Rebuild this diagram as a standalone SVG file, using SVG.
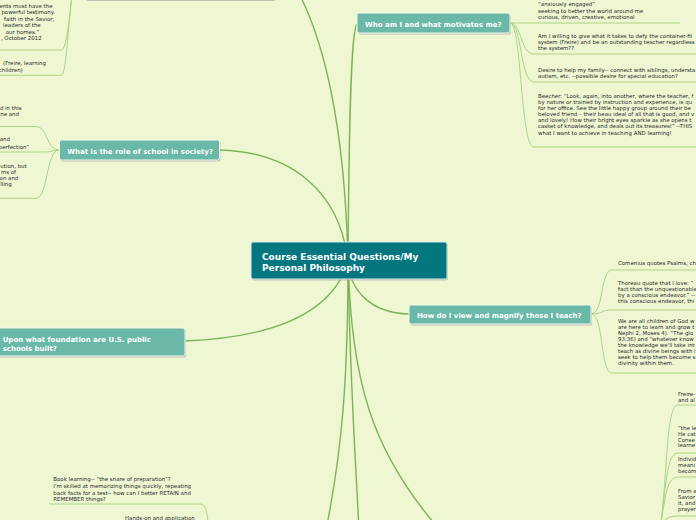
<svg xmlns="http://www.w3.org/2000/svg" width="696" height="520" viewBox="0 0 696 520">
<style>
.main{fill:none;stroke:#7db456;stroke-width:1.4}
.sub{fill:none;stroke:#acd483;stroke-width:1}
.node{fill:#6ab8a7;stroke:#f4f8ee;stroke-width:1}
.cnode{fill:#03767f;stroke:#d6ecec;stroke-width:1}
.shadow{fill:#9a9a9a;opacity:.55}
.lbl{font-family:"DejaVu Sans",Verdana,sans-serif;font-weight:bold;font-size:7px;fill:#ffffff}
.clbl{font-family:"DejaVu Sans",Verdana,sans-serif;font-weight:bold;font-size:9px;fill:#ffffff}
.t{font-family:"DejaVu Sans",Verdana,sans-serif;font-size:5.45px;fill:#2a2a2a}
.e{text-anchor:end}
</style>
<rect width="696" height="520" fill="#eef7d2"/>
<g id="connectors">
<path class="main" d="M296,-12 C325,40 345,130 348,262"/>
<path class="main" d="M357,24 C351,30 349,120 348,262"/>
<path class="main" d="M220,150 C290,152 340,190 348,262"/>
<path class="main" d="M348,262 C350,290 370,313 409,314"/>
<path class="main" d="M185,341 C260,338 330,320 348,262"/>
<path class="main" d="M348,262 C348,380 342,450 326,530"/>
<path class="main" d="M348,262 C350,380 355,450 359,530"/>
<path class="main" d="M348,262 C352,380 370,450 440,530"/>
<path class="sub" d="M510,23 L680,23"/>
<path class="sub" d="M510,23 C522,23 520,54 534,54 L696,54"/>
<path class="sub" d="M510,23 C522,23 520,82 534,82 L696,82"/>
<path class="sub" d="M510,23 C522,23 520,147 534,147 L696,147"/>
<path class="sub" d="M591,314 C604,314 600,270 612,270 L696,270"/>
<path class="sub" d="M591,314 C604,314 600,310 612,310 L696,310"/>
<path class="sub" d="M591,314 C604,314 600,373 612,373 L696,373"/>
<path class="sub" d="M660,530 C668,470 666,405 678,405 L696,405"/>
<path class="sub" d="M660,530 C666,490 666,453 678,453 L696,453"/>
<path class="sub" d="M660,530 C665,500 666,477 678,477 L696,477"/>
<path class="sub" d="M660,530 C663,520 666,516 678,516 L696,516"/>
<path class="sub" d="M0,126.5 L36,126.5 C48,126.5 46,150 59,150"/>
<path class="sub" d="M0,152 L45,152 C52,152 52,150 59,150"/>
<path class="sub" d="M0,198.3 L36,198.3 C48,198.3 46,150 59,150"/>
<path class="sub" d="M0,50 L61,50 C66,50 68,30 72,-5"/>
<path class="sub" d="M0,75.3 L61,75.3 C66,75.3 67,40 72,-5"/>
<path class="sub" d="M49,504 L200,504 C205,504 207,510 208,522"/>
</g>
<g id="node-top-left">
<rect class="shadow" x="86" y="-29" width="190" height="30" rx="2"/>
<rect class="node" x="85" y="-31" width="190" height="30.5" rx="2"/>
</g>
<g id="node-center">
<rect class="shadow" x="252" y="243.5" width="196" height="37" rx="2"/>
<rect class="cnode" x="251" y="242" width="196" height="37" rx="2"/>
<text class="clbl" x="262" y="259.5">Course Essential Questions/My</text>
<text class="clbl" x="262" y="270.5">Personal Philosophy</text>
</g>
<g id="node-who">
<rect class="shadow" x="358" y="14.5" width="153" height="20" rx="2"/>
<rect class="node" x="357" y="13" width="153" height="20" rx="2"/>
<text class="lbl" x="365" y="26.5">Who am I and what motivates me?</text>
</g>
<g id="who-children">
<text class="t" x="538" y="6.3">“anxiously engaged”</text>
<text class="t" x="538" y="12.5">seeking to better the world around me</text>
<text class="t" x="538" y="18.5">curious, driven, creative, emotional</text>
<text class="t" x="538" y="38">Am I willing to give what it takes to defy the container-fil</text>
<text class="t" x="538" y="44">system (Freire) and be an outstanding teacher regardless</text>
<text class="t" x="538" y="50">the system??</text>
<text class="t" x="538" y="72">Desire to help my family-- connect with siblings, understa</text>
<text class="t" x="538" y="77.5">autism, etc. --possible desire for special education?</text>
<text class="t" x="538" y="98">Beecher: “Look, again, into another, where the teacher, f</text>
<text class="t" x="538" y="104">by nature or trained by instruction and experience, is qu</text>
<text class="t" x="538" y="110">for her office.  See the little happy group around their be</text>
<text class="t" x="538" y="116">beloved friend – their beau ideal of all that is good, and v</text>
<text class="t" x="538" y="122">and lovely!  How their bright eyes sparkle as she opens t</text>
<text class="t" x="538" y="128">casket of knowledge, and deals out its treasures!” --THIS</text>
<text class="t" x="538" y="135">what I want to achieve in teaching AND learning!</text>
</g>
<g id="node-role">
<rect class="shadow" x="60.5" y="141.5" width="160" height="20" rx="2"/>
<rect class="node" x="59.5" y="140" width="160" height="20" rx="2"/>
<text class="lbl" x="67.3" y="153.5">What is the role of school in society?</text>
</g>
<g id="role-children">
<text class="t e" x="21.7" y="110">d in this</text>
<text class="t e" x="19" y="116">ne and</text>
<text class="t e" x="10" y="141">and</text>
<text class="t e" x="29" y="149">perfection”</text>
<text class="t e" x="26.7" y="168">ution, but</text>
<text class="t e" x="16" y="174">ms of</text>
<text class="t e" x="18.3" y="180">on and</text>
<text class="t e" x="11.7" y="186">lling</text>
</g>
<g id="top-left-children">
<text class="t e" x="52.5" y="7.7">ents must have the</text>
<text class="t e" x="55" y="14.3">powerful testimony.</text>
<text class="t e" x="54.3" y="20.7">faith in the Savior;</text>
<text class="t e" x="40.7" y="27">leaders of the</text>
<text class="t e" x="39.3" y="34">our homes.”</text>
<text class="t e" x="41.7" y="40">, October 2012</text>
<text class="t e" x="46" y="64.7">(Freire, learning</text>
<text class="t e" x="22.7" y="72">children)</text>
</g>
<g id="node-view">
<rect class="shadow" x="410" y="306.5" width="182" height="19" rx="2"/>
<rect class="node" x="409" y="305" width="182" height="19" rx="2"/>
<text class="lbl" x="417" y="317.5">How do I view and magnify those I teach?</text>
</g>
<g id="view-children">
<text class="t" x="618" y="265.3">Comenius quotes Psalms, ch</text>
<text class="t" x="618" y="284.7">Thoreau quote that I love: “</text>
<text class="t" x="618" y="290.7">fact than the unquestionable</text>
<text class="t" x="618" y="296.7">by a conscious endeavor.” --</text>
<text class="t" x="618" y="302.7">this conscious endeavor, thi</text>
<text class="t" x="618" y="322.7">We are all children of God w</text>
<text class="t" x="618" y="328.7">are here to learn and grow t</text>
<text class="t" x="618" y="334.7">Nephi 2, Moses 4). “The glo</text>
<text class="t" x="618" y="340.7">93:36) and “whatever know</text>
<text class="t" x="618" y="346.7">the knowledge we'll take int</text>
<text class="t" x="618" y="352.7">teach as divine beings with i</text>
<text class="t" x="618" y="358.7">seek to help them become s</text>
<text class="t" x="618" y="364.7">divinity within them.</text>
</g>
<g id="node-foundation">
<rect class="shadow" x="-2" y="329.5" width="188" height="28" rx="2"/>
<rect class="node" x="-3" y="328" width="188" height="28" rx="2"/>
<text class="lbl" x="2.7" y="341.5">Upon what foundation are U.S. public</text>
<text class="lbl" x="2.7" y="350.5">schools built?</text>
</g>
<g id="bottom-right-children">
<text class="t" x="678" y="396.3">Freire-</text>
<text class="t" x="678" y="402">and al</text>
<text class="t" x="678" y="430.3">“the le</text>
<text class="t" x="678" y="435.8">He cat</text>
<text class="t" x="678" y="441.5">Conse</text>
<text class="t" x="678" y="447">learne</text>
<text class="t" x="678" y="461.3">Individ</text>
<text class="t" x="678" y="467">meani</text>
<text class="t" x="678" y="472.7">becom</text>
<text class="t" x="678" y="493">From a</text>
<text class="t" x="678" y="498.7">Savior</text>
<text class="t" x="678" y="504.7">it, and</text>
<text class="t" x="678" y="510.7">prayer</text>
</g>
<g id="bottom-left-children">
<text class="t" x="53.3" y="481.3">Book learning-- “the snare of preparation”?</text>
<text class="t" x="53.3" y="488">I'm skilled at memorizing things quickly, repeating</text>
<text class="t" x="53.3" y="494.5">back facts for a test-- how can I better RETAIN and</text>
<text class="t" x="53.3" y="501">REMEMBER things?</text>
<text class="t" x="125" y="520.3">Hands-on and application</text>
</g>
</svg>
